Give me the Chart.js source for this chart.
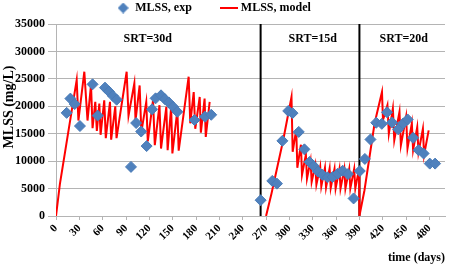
<!DOCTYPE html>
<html>
<head>
<meta charset="utf-8">
<script src="https://cdn.jsdelivr.net/npm/chart.js@4.4.0/dist/chart.umd.min.js"></script>
<style>
  html, body { margin: 0; padding: 0; background: #fff; }
  #wrap { width: 454px; height: 267px; position: relative; }
</style>
</head>
<body>
<div id="wrap"><canvas id="mlss-chart"></canvas></div>
<script>
// measured MLSS (diamonds)
const expDays = [13.7, 18.5, 24, 30.8, 47, 53.6, 63, 68, 73, 78,
  96.4, 103, 109.5, 116.5, 123.5, 128, 135, 140, 145, 150.5, 156,
  178, 191.5, 199.5,
  263, 278, 284, 291, 298.5, 304, 312, 319.3, 325.8, 331.3, 336.8, 342.5, 349, 355.5, 362, 368.5, 375.3, 382.5, 390.5,
  397, 404.2, 411.6, 418.8, 425.5, 432, 439.8, 446.2, 452, 459, 466, 472.5, 480.4, 487.3];
const expMlss = [18800, 21400, 20400, 16400, 24000, 18300, 23400, 22700, 21900, 21200,
  8950, 16950, 15400, 12750, 19450, 21450, 22000, 21300, 20700, 19900, 19000,
  17500, 18100, 18450,
  2880, 6400, 5900, 13700, 19150, 18750, 15330, 12150, 9850, 9100, 8100, 7500, 7050, 7100, 7700, 8250, 7650, 3200, 8200,
  10400, 13950, 17000, 16800, 18900, 17050, 15800, 16850, 17600, 14250, 12000, 11400, 9550, 9550];

// model MLSS (red line), null = no model output
const modelDays = [0, 5, 26.6, 28.8, 36.4, 40.5, 45, 47, 50.5, 52.5, 55.7, 57.3, 62, 64, 69.4, 70.9, 76.2, 77.8,
  90.8, 93.2, 100.7, 102.2, 107.5, 109.7, 116, 118, 124.7, 127, 133, 135, 141.8, 143.5, 148, 149.6, 156, 157.7,
  170.5, 172.6, 177, 179, 184.7, 186.2, 191, 192.5, 197.5,
  230,
  270, 277, 292, 302.7, 304.2, 308.8, 310.2, 314.8, 316.2, 321.2, 322.6, 327.2, 328.6, 333.3, 334.7, 339.6, 341,
  345.7, 347.1, 351.7, 353.1, 358, 359.4, 364.3, 365.7, 370.6, 372, 376.9, 378.3, 383.3, 384.7, 389.5,
  390, 396.5, 409.5, 419, 420.3, 426, 427.8, 433, 434.8, 441.5, 443.3, 450, 451.8, 457.4, 459, 464.3, 465.9, 471.6, 473.1, 479];
const modelMlss = [0, 5800, 24800, 17400, 26300, 17400, 23900, 16000, 20800, 15500, 20500, 14800, 21100, 14200, 20800, 13900, 20000, 14200,
  26300, 18300, 24200, 17400, 23800, 15300, 20800, 13600, 21100, 12900, 20200, 12300, 19900, 12000, 19900, 11400, 19300, 11900,
  25400, 16900, 22600, 15900, 21700, 15200, 21400, 14400, 20800,
  null,
  0, 4100, 13800, 21700, 11700, 15800, 8800, 13000, 7500, 11200, 6800, 10100, 6200, 9300, 5700, 9000, 5400,
  8800, 5200, 8700, 5100, 8600, 5000, 8600, 5000, 8600, 5000, 8600, 5000, 8600, 5000, 8600,
  0, 4700, 16900, 22600, 17500, 20200, 15000, 19600, 13800, 19000, 12900, 18100, 12300, 16900, 12000, 16200, 11600, 15900, 11100, 15600];

// SRT changes
const srtChangeDays = [263, 390];
const srtLabels = ['SRT=30d', 'SRT=15d', 'SRT=20d'];
const srtLabelDays = [118, 330, 447];
const srtLabelLevel = 32300;

const blue = '#4f81bd';
const red = '#ff0000';
const gridColor = '#b4b4b4';
const serif = 'Liberation Serif';

Chart.defaults.font.family = serif;
Chart.defaults.color = '#000';

function points(xs, ys) {
  return xs.map(function(x, i) { return {x: x, y: ys[i]}; });
}

function icon(w, h, draw) {
  const c = document.createElement('canvas');
  c.width = w;
  c.height = h;
  draw(c.getContext('2d'));
  return c;
}

const diamondIcon = icon(11, 11, function(g) {
  g.fillStyle = blue;
  g.beginPath();
  g.moveTo(5.5, 0);
  g.lineTo(11, 5.5);
  g.lineTo(5.5, 11);
  g.lineTo(0, 5.5);
  g.closePath();
  g.fill();
});
const lineIcon = icon(18, 2, function(g) {
  g.fillStyle = red;
  g.fillRect(0, 0, 18, 2);
});

const changeSets = srtChangeDays.map(function(d) {
  return {
    label: 'SRT change',
    data: [{x: d, y: 0}, {x: d, y: 35000}],
    showLine: true,
    borderColor: '#000',
    borderWidth: 2,
    pointRadius: 0
  };
});

// SRT labels and y title
const textLabels = {
  id: 'textLabels',
  afterDatasetsDraw: function(chart) {
    const ctx = chart.ctx;
    const x = chart.scales.x;
    const y = chart.scales.y;
    ctx.save();
    ctx.fillStyle = '#000';
    ctx.textAlign = 'center';
    ctx.textBaseline = 'middle';
    ctx.font = 'bold 12px "' + serif + '"';
    srtLabels.forEach(function(t, i) {
      ctx.fillText(t, x.getPixelForValue(srtLabelDays[i]), y.getPixelForValue(srtLabelLevel));
    });
    ctx.translate(9, 107);
    ctx.rotate(-Math.PI / 2);
    ctx.font = 'bold 14px "' + serif + '"';
    ctx.fillText('MLSS (mg/L)', 0, 0);
    ctx.restore();
  }
};

const ctx = document.getElementById('mlss-chart').getContext('2d');
new Chart(ctx, {
  type: 'scatter',
  data: {
    datasets: [
      {
        label: 'MLSS, exp',
        data: points(expDays, expMlss),
        pointStyle: 'rectRot',
        pointRadius: 5.5,
        backgroundColor: blue,
        borderColor: '#4a7bb7',
        borderWidth: 1
      },
      {
        label: 'MLSS, model',
        data: points(modelDays, modelMlss),
        showLine: true,
        spanGaps: false,
        borderColor: red,
        backgroundColor: red,
        borderWidth: 2,
        pointRadius: 0
      }
    ].concat(changeSets)
  },
  options: {
    responsive: true,
    maintainAspectRatio: false,
    animation: false,
    layout: {
      padding: {top: -29, left: -17, right: 9, bottom: 0}
    },
    scales: {
      x: {
        type: 'linear',
        min: 0,
        max: 500,
        border: {color: gridColor},
        grid: {drawOnChartArea: false, color: gridColor, tickLength: 4},
        ticks: {
          stepSize: 30,
          includeBounds: false,
          autoSkip: false,
          minRotation: 45,
          maxRotation: 45,
          padding: 2,
          font: {size: 11, weight: 'bold'},
          callback: function(value) { return value; }
        },
        title: {
          display: true,
          text: 'time (days)',
          align: 'end',
          font: {size: 12, weight: 'bold'},
          padding: {top: 0, bottom: 2}
        },
        afterFit: function(scale) { scale.height = 51; }
      },
      y: {
        min: 0,
        max: 35000,
        border: {color: gridColor},
        grid: {color: gridColor, tickLength: 8},
        ticks: {
          stepSize: 5000,
          padding: 3,
          font: {size: 12, weight: 'bold'},
          callback: function(value) { return value; }
        },
        afterFit: function(scale) { scale.width = 73; }
      }
    },
    plugins: {
      legend: {
        labels: {
          usePointStyle: true,
          padding: 31,
          font: {size: 12, weight: 'bold'},
          generateLabels: function(chart) {
            const items = Chart.defaults.plugins.legend.labels.generateLabels(chart).slice(0, 2);
            items[0].pointStyle = diamondIcon;
            items[1].pointStyle = lineIcon;
            return items;
          }
        }
      },
      tooltip: {enabled: false}
    }
  },
  plugins: [textLabels]
});
</script>
</body>
</html>
